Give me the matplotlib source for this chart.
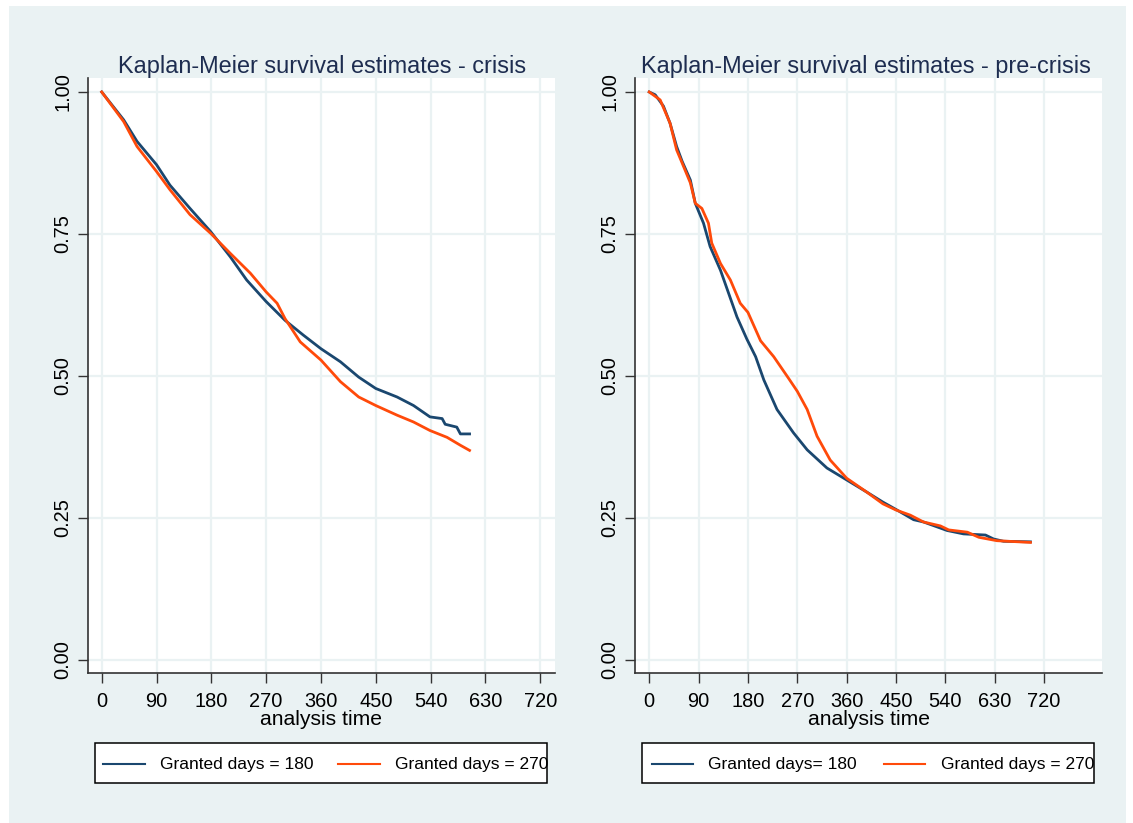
import matplotlib
matplotlib.use("Agg")
import matplotlib.pyplot as plt
from matplotlib.patches import Rectangle
from matplotlib.lines import Line2D

plt.rcParams['font.family'] = ['Liberation Sans', 'DejaVu Sans']

# ---------------- data ----------------
crisis_t_180 = [0, 36, 58, 90, 112, 145, 179, 211, 238, 270, 301, 331, 360, 392,
                422, 450, 485, 512, 539, 559, 564, 583, 589, 604]
crisis_s_180 = [1.0, .951, .913, .872, .836, .795, .754, .71, .669, .631, .598, .572,
                .548, .525, .498, .478, .463, .448, .428, .425, .415, .41, .398, .398]

crisis_t_270 = [0, 36, 58, 90, 112, 145, 179, 211, 244, 270, 288, 301, 326, 360, 392,
                422, 450, 485, 512, 539, 567, 589, 604]
crisis_s_270 = [1.0, .948, .904, .86, .828, .784, .751, .716, .681, .648, .628, .601,
                .56, .528, .49, .463, .448, .431, .419, .404, .392, .378, .369]

pre_t_180 = [0, 11, 26, 38, 50, 60, 75, 84, 99, 111, 130, 145, 160, 178, 194, 209, 233,
             263, 288, 324, 360, 396, 426, 450, 482, 500, 543, 573, 613, 628, 646, 695]
pre_s_180 = [1.0, .995, .975, .945, .904, .878, .845, .804, .769, .728, .686, .645, .604,
             .565, .534, .493, .441, .40, .37, .338, .317, .296, .278, .265, .247, .243,
             .228, .222, .22, .213, .209, .208]

pre_t_270 = [0, 20, 38, 50, 60, 75, 84, 96, 108, 114, 130, 148, 166, 180, 203, 227, 254,
             270, 288, 306, 330, 360, 396, 426, 450, 476, 500, 531, 546, 580, 601, 634, 695]
pre_s_270 = [1.0, .986, .945, .898, .875, .84, .804, .795, .769, .734, .698, .669, .628,
             .612, .562, .534, .496, .473, .441, .394, .352, .32, .296, .275, .264, .255,
             .243, .236, .229, .225, .216, .21, .207]

x_ticks = [0, 90, 180, 270, 360, 450, 540, 630, 720]
y_ticks = [0.0, 0.25, 0.5, 0.75, 1.0]
y_ticklabels = ["0.00", "0.25", "0.50", "0.75", "1.00"]

titles = ["Kaplan-Meier survival estimates - crisis",
          "Kaplan-Meier survival estimates - pre-crisis"]
legend_labels = [["Granted days = 180", "Granted days = 270"],
                 ["Granted days= 180", "Granted days = 270"]]

# ---------------- style ----------------
W, H = 1133, 823
BG = "#EAF2F3"
GRID = "#EAF2F3"
NAVY = "#1A476F"
ORANGE = "#FF4A0A"
TITLE_C = "#1E2D50"
AX_C = "#333333"

fig = plt.figure(figsize=(W / 100, H / 100), dpi=100)
fig.patch.set_facecolor("white")


def fx(px):
    return px / W


def fy(py):
    return 1 - py / H


fig.patches.append(Rectangle((fx(9), fy(823)), fx(1126) - fx(9), fy(6) - fy(823),
                             transform=fig.transFigure, facecolor=BG, edgecolor="none",
                             zorder=-10))

panels = [
    dict(left=88, right=555, xlim=(-22.5, 744.3), tcx=322,
         t180=crisis_t_180, s180=crisis_s_180, t270=crisis_t_270, s270=crisis_s_270,
         leg=(95, 547), h1=(103, 145), tx1=160, h2=(338, 380), tx2=395),
    dict(left=635, right=1102, xlim=(-25.9, 825.5), tcx=866,
         t180=pre_t_180, s180=pre_s_180, t270=pre_t_270, s270=pre_s_270,
         leg=(642, 1094), h1=(652, 693), tx1=708, h2=(884, 925), tx2=941),
]

top_px, bot_px = 78, 673

for i, p in enumerate(panels):
    ax = fig.add_axes([fx(p['left']), fy(bot_px), fx(p['right']) - fx(p['left']),
                       fy(top_px) - fy(bot_px)])
    ax.set_facecolor("white")
    ax.set_xlim(*p['xlim'])
    ax.set_ylim(-0.0229, 1.0246)
    ax.set_xticks(x_ticks)
    ax.set_yticks(y_ticks)
    ax.set_yticklabels(y_ticklabels, rotation=90, va='center')
    ax.grid(True, color=GRID, lw=1.6, zorder=0)
    ax.set_axisbelow(True)
    for s in ['top', 'right']:
        ax.spines[s].set_visible(False)
    for s in ['left', 'bottom']:
        ax.spines[s].set_color(AX_C)
        ax.spines[s].set_linewidth(1.2)
    ax.tick_params(axis='both', direction='out', length=7, width=1.0, color=AX_C,
                   labelsize=14.4, labelcolor='black')
    ax.tick_params(axis='x', pad=7)
    ax.tick_params(axis='y', pad=4)
    ax.plot(p['t180'], p['s180'], color=NAVY, lw=2.0, zorder=3)
    ax.plot(p['t270'], p['s270'], color=ORANGE, lw=2.0, zorder=3)
    ax.set_xlabel("analysis time", fontsize=15.2, labelpad=-1, color='black')

    fig.text(fx(p['tcx']), fy(66), titles[i], fontsize=16.9, color=TITLE_C,
             ha='center', va='center')

    # legend box
    l0, l1 = p['leg']
    fig.patches.append(Rectangle((fx(l0), fy(783)), fx(l1) - fx(l0), fy(743) - fy(783),
                                 transform=fig.transFigure, facecolor='white',
                                 edgecolor='black', lw=1.1, zorder=5))
    for (h0, h1), tx, col, lab in [(p['h1'], p['tx1'], NAVY, legend_labels[i][0]),
                                  (p['h2'], p['tx2'], ORANGE, legend_labels[i][1])]:
        fig.lines.append(Line2D([fx(h0), fx(h1)], [fy(764), fy(764)],
                                transform=fig.transFigure, color=col, lw=1.5, zorder=6))
        fig.text(fx(tx), fy(764), lab, fontsize=12.5, color='black', ha='left',
                 va='center', zorder=6)

fig.savefig("out.png", dpi=100, facecolor=fig.get_facecolor())
